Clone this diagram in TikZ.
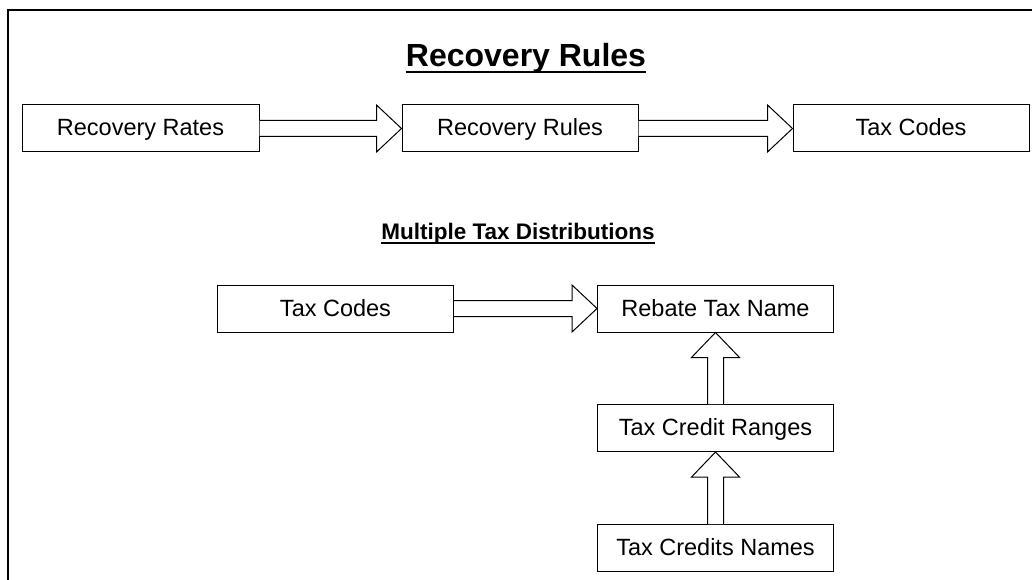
\documentclass[tikz,border=0pt]{standalone}
\usepackage{fontspec}
\setmainfont{Liberation Sans}
\usetikzlibrary{calc}

\tikzset{
    box/.style={draw, line width=1pt, minimum width=236pt, minimum height=47pt,
                inner sep=0pt, text height=17pt, text depth=2pt,
                font=\fontsize{23.5}{28}\selectfont},
    fat/.style={draw, line width=1pt, fill=white},
    heading/.style={inner sep=0pt, anchor=base, font=\bfseries\fontsize{32}{38}\selectfont},
    subheading/.style={inner sep=0pt, anchor=base, font=\bfseries\fontsize{22.5}{27}\selectfont},
}

% hollow block arrows, left to right and bottom to top
\newcommand{\rightfat}[2]{%
    \draw[fat] ($(#1.east)+(0,-8)$) -- ($(#2.west)+(-25,-8)$) --
               ($(#2.west)+(-25,-23.5)$) -- (#2.west) --
               ($(#2.west)+(-25,23.5)$) -- ($(#2.west)+(-25,8)$) --
               ($(#1.east)+(0,8)$);}
\newcommand{\upfat}[2]{%
    \draw[fat] ($(#1.north)+(-8,0)$) -- ($(#2.south)+(-8,25)$) --
               ($(#2.south)+(-24,25)$) -- (#2.south) --
               ($(#2.south)+(24,25)$) -- ($(#2.south)+(8,25)$) --
               ($(#1.north)+(8,0)$);}

\begin{document}
\begin{tikzpicture}[x=1pt, y=-1pt]
        \useasboundingbox (0, 0) rectangle (1032, 580);
        \draw[line width=2pt] (1032, 10) -- (8, 10) -- (8, 580);

        % top row
        \node[heading] (title) at (526, 67) {Recovery Rules};
        \draw[line width=2.2pt] ([yshift=-5pt]title.base west) -- ([yshift=-5pt]title.base east);
        \node[box, minimum width=237pt] (rates) at (140.5, 128.5) {Recovery Rates};
        \node[box] (rules) at (520, 128.5) {Recovery Rules};
        \node[box] (codes) at (911, 128.5) {Tax Codes};
        \rightfat{rates}{rules}
        \rightfat{rules}{codes}

        % multiple distributions
        \node[subheading] (multi) at (518, 239) {Multiple Tax Distributions};
        \draw[line width=1.6pt] ([yshift=-4pt]multi.base west) -- ([yshift=-4pt]multi.base east);
        \node[box] (taxcodes) at (335.5, 308.5) {Tax Codes};
        \node[box] (rebate) at (715.5, 308.5) {Rebate Tax Name};
        \node[box] (ranges) at (715.5, 428) {Tax Credit Ranges};
        \node[box] (names) at (715.5, 548) {Tax Credits Names};
        \rightfat{taxcodes}{rebate}
        \upfat{ranges}{rebate}
        \upfat{names}{ranges}
    \end{tikzpicture}
\end{document}
